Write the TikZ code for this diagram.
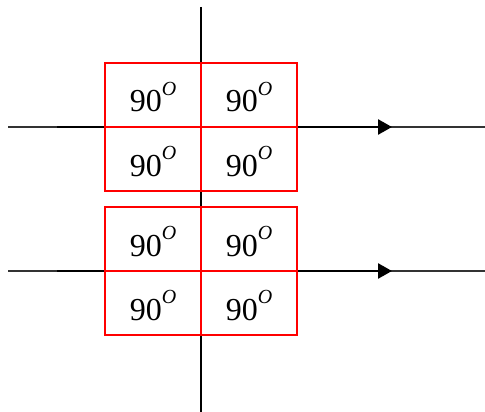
\documentclass[tikz,border=0pt]{standalone}
\usepackage{fontspec}
\setmainfont{Liberation Serif}
\usetikzlibrary{arrows.meta, positioning}

\newcommand{\ninety}{90\raisebox{17pt}{\fontsize{20}{20}\selectfont\itshape O}}

\begin{document}
\begin{tikzpicture}[x=1pt, y=-1pt,
  cell/.style={draw=red, line width=1.6pt, minimum width=96pt, minimum height=64pt,
    inner sep=0pt, outer sep=0pt, text height=34pt, text depth=0pt,
    font=\fontsize{32}{36}\selectfont},
  thin axis/.style={line width=1.2pt, black!80},
  thick axis/.style={line width=2.6pt, -{Triangle[length=14pt, width=15pt]}}]
\useasboundingbox (0,0) rectangle (485,412);

% Axis lines
\foreach \y/\n in {127/a, 271/b} {
  \coordinate (\n start) at (8,\y);
  \coordinate (\n from) at (57,\y);
  \coordinate (\n tip) at (392,\y);
  \coordinate (\n end) at (485,\y);
  \draw[thin axis] (\n start) -- (\n end);
  \draw[thick axis] (\n from) -- (\n tip);
}
\coordinate (top) at (201,7);
\coordinate (bottom) at (201,412);
\draw[line width=1.8pt] (top) -- (bottom);

% Upper block
\node[cell] (ua) at (153,95) {\ninety};
\node[cell, right=0pt of ua] (ub) {\ninety};
\node[cell, below=0pt of ua] (uc) {\ninety};
\node[cell, right=0pt of uc] (ud) {\ninety};

% Lower block
\node[cell] (la) at (153,239) {\ninety};
\node[cell, right=0pt of la] (lb) {\ninety};
\node[cell, below=0pt of la] (lc) {\ninety};
\node[cell, right=0pt of lc] (ld) {\ninety};

\end{tikzpicture}
\end{document}
